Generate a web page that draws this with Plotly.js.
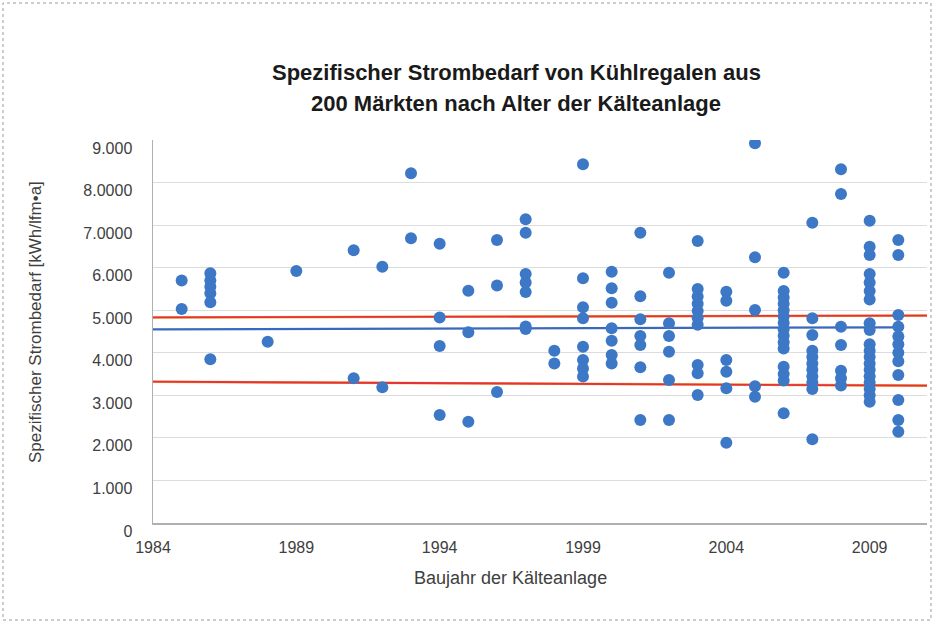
<!DOCTYPE html>
<html>
<head>
<meta charset="utf-8">
<script src="https://cdn.plot.ly/plotly-3.0.1.min.js"></script>
<style>html,body{margin:0;padding:0;background:#fff;}#chart{width:934px;height:623px;}</style>
</head>
<body>
<div id="chart"></div>
<script>
// Baujahr (x) and measured values per year (kWh/lfm·a)
const years = [1985, 1986, 1988, 1989, 1991, 1992, 1993, 1994, 1995, 1996, 1997, 1998,
               1999, 2000, 2001, 2002, 2003, 2004, 2005, 2006, 2007, 2008, 2009, 2010];
const valuesByYear = [
  [5700, 5030],
  [5870, 5700, 5550, 5400, 5190, 3850],
  [4260],
  [5920],
  [6410, 3400],
  [6020, 3190],
  [8220, 6690],
  [6560, 4830, 4160, 2540],
  [5460, 4480, 2380],
  [6650, 5580, 3080],
  [7140, 6820, 5850, 5650, 5430, 4620, 4560],
  [4050, 3750],
  [8430, 5750, 5070, 4810, 4140, 3830, 3630, 3440],
  [5905, 5514, 5177, 4574, 4284, 3947, 3750],
  [6822, 5330, 4790, 4394, 4182, 3658, 2420],
  [5881, 4692, 4394, 4025, 3360, 2420],
  [6626, 5500, 5320, 5150, 4980, 4820, 4660, 3712, 3517, 3008],
  [5435, 5224, 3830, 3555, 3165, 1887],
  [8921, 6242, 5005, 3212, 2968],
  [5881, 5450, 5300, 5150, 5000, 4850, 4700, 4550, 4400, 4250, 4100, 3670, 3500, 3350, 2577],
  [7057, 4810, 4417, 4050, 3900, 3750, 3600, 3450, 3300, 3150, 1966],
  [8310, 7730, 4613, 4182, 3580, 3400, 3230],
  [7103, 6492, 6297, 5850, 5650, 5450, 5250, 4692, 4535, 4200, 4050, 3900, 3750, 3600, 3450, 3300, 3150, 3000, 2850],
  [6649, 6297, 4887, 4613, 4380, 4200, 4000, 3800, 3477, 2890, 2420, 2145]
];

// Trend / band lines (endpoints)
const meanX = [1984, 2010];
const meanY = [4550, 4598];
const upperX = [1984, 2011];
const upperY = [4830, 4875];
const lowerX = [1984, 2011];
const lowerY = [3320, 3228];

// Axis tick labels
const xTickVals = [1984, 1989, 1994, 1999, 2004, 2009];
const xTickText = ['1984', '1989', '1994', '1999', '2004', '2009'];
const yTickVals = [0, 1000, 2000, 3000, 4000, 5000, 6000, 7000, 8000, 9000];
const yTickText = ['0', '1.000', '2.000', '3.000', '4.000', '5.000', '6.000', '7.0000', '8.0000', '9.000'];

const titleLine1 = 'Spezifischer Strombedarf von Kühlregalen aus';
const titleLine2 = '200 Märkten nach Alter der Kälteanlage';
const xTitle = 'Baujahr der Kälteanlage';
const yTitle = 'Spezifischer Strombedarf [kWh/lfm•a]';

const px = [], py = [];
years.forEach((yr, i) => valuesByYear[i].forEach(v => { px.push(yr); py.push(v); }));

const FONT = 'Liberation Sans, Arial, sans-serif';

const traces = [
  {x: upperX, y: upperY, mode: 'lines', line: {color: '#f2a23a', width: 2.6}, hoverinfo: 'skip', showlegend: false},
  {x: upperX, y: upperY, mode: 'lines', line: {color: '#e4323c', width: 1.8}, hoverinfo: 'skip', showlegend: false},
  {x: lowerX, y: lowerY, mode: 'lines', line: {color: '#f2a23a', width: 2.6}, hoverinfo: 'skip', showlegend: false},
  {x: lowerX, y: lowerY, mode: 'lines', line: {color: '#e4323c', width: 1.8}, hoverinfo: 'skip', showlegend: false},
  {x: meanX, y: meanY, mode: 'lines', line: {color: '#3a68bd', width: 2.2}, hoverinfo: 'skip', showlegend: false},
  {x: px, y: py, mode: 'markers', type: 'scatter',
   marker: {color: '#3d78c6', size: 12, line: {width: 0}}, showlegend: false}
];

const L = 153, R = 7, T = 140, B = 100;
const W = 934 - L - R, H = 623 - T - B;
const toPX = p => (p - L) / W;
const toPY = p => (623 - B - p) / H;

const layout = {
  width: 934, height: 623,
  margin: {l: L, r: R, t: T, b: B, pad: 0},
  paper_bgcolor: '#ffffff', plot_bgcolor: '#ffffff',
  font: {family: FONT, color: '#404040'},
  showlegend: false,
  xaxis: {
    range: [1984, 2011], tickvals: xTickVals, ticktext: xTickText,
    showgrid: false, zeroline: false, showline: true, linecolor: '#b0b0b0', linewidth: 1.5,
    ticks: '', ticklabelstandoff: 9,
    tickfont: {family: FONT, size: 16, color: '#404040'}
  },
  yaxis: {
    range: [0, 9000], tickvals: yTickVals, ticktext: yTickText,
    showgrid: true, gridcolor: '#dcdcdc', gridwidth: 1,
    zeroline: false, showline: true, linecolor: '#b0b0b0', linewidth: 1.5,
    ticks: '', ticklabelstandoff: 16, ticklabelshift: 8,
    tickfont: {family: FONT, size: 16, color: '#404040'}
  },
  annotations: [
    {text: '<b>' + titleLine1 + '</b>', xref: 'paper', yref: 'paper', x: toPX(516), y: toPY(73),
     xanchor: 'center', yanchor: 'middle', showarrow: false, font: {family: FONT, size: 22, color: '#1a1a1a'}},
    {text: '<b>' + titleLine2 + '</b>', xref: 'paper', yref: 'paper', x: toPX(516), y: toPY(103),
     xanchor: 'center', yanchor: 'middle', showarrow: false, font: {family: FONT, size: 22, color: '#1a1a1a'}},
    {text: xTitle, xref: 'paper', yref: 'paper', x: toPX(510), y: toPY(578),
     xanchor: 'center', yanchor: 'middle', showarrow: false, font: {family: FONT, size: 18, color: '#404040'}},
    {text: yTitle, xref: 'paper', yref: 'paper', x: toPX(35), y: toPY(322), textangle: -90,
     xanchor: 'center', yanchor: 'middle', showarrow: false, font: {family: FONT, size: 17, color: '#404040'}}
  ],
  shapes: [
    {type: 'rect', xref: 'paper', yref: 'paper', x0: toPX(3), x1: toPX(931), y0: toPY(620), y1: toPY(3),
     line: {color: '#9a9a9a', width: 1, dash: 'dot'}, fillcolor: 'rgba(0,0,0,0)', layer: 'below'}
  ]
};

Plotly.newPlot('chart', traces, layout, {staticPlot: true, displayModeBar: false});
</script>
</body>
</html>
